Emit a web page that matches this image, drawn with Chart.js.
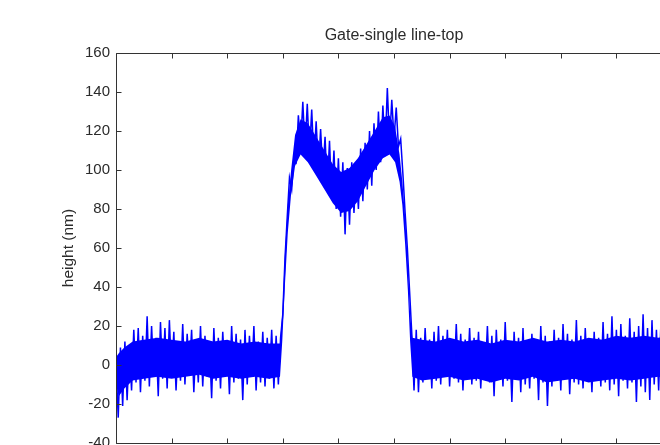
<!DOCTYPE html>
<html>
<head>
<meta charset="utf-8">
<script src="https://cdn.jsdelivr.net/npm/chart.js@4.4.0/dist/chart.umd.min.js"></script>
<style>
    body { margin: 0; overflow: hidden; background: #fff; }
</style>
</head>
<body>
<canvas id="myChart" width="700" height="480"></canvas>
<script>
// profile samples, one every 0.04 along x
const sampleStep = 0.04;
const heights = [
    1, -27, 9, -21, 12, -18, 10, -13, 18, -9,
    19, -14, 15, -8, 25, -11, 20, -6, 14, -16,
    22, -7, 19, -12, 23, -5, 17, -13, 12, -8,
    21, -10, 16, -4, 18, -14, 13, -9, 20, -11,
    15, -6, 11, -17, 19, -8, 14, -12, 17, -5,
    12, -15, 20, -9, 16, -7, 13, -18, 18, -10,
    15, -6, 20, -13, 12, -9, 17, -11, 14, -7,
    18, -12, 15, -10, 14, 26, 55, 76, 96, 90,
    106, 104, 128, 112, 135, 110, 134, 108, 131, 104,
    125, 100, 121, 98, 117, 90, 115, 86, 110, 80,
    106, 76, 104, 67, 101, 72, 104, 78, 100, 80,
    111, 84, 114, 90, 120, 92, 124, 100, 130, 104,
    133, 110, 142, 114, 136, 116, 132, 112, 116, 98,
    78, 60, 38, 16, -13, 18, -14, 14, -9, 19,
    -6, 13, -12, 17, -8, 20, -10, 15, -5, 18,
    -11, 12, -7, 21, -9, 16, -13, 13, -6, 19,
    -10, 14, -8, 17, -12, 11, -5, 20, -9, 15,
    -16, 18, -7, 13, -11, 22, -8, 12, -19, 17,
    -6, 14, -14, 19, -10, 11, -12, 16, -7, 13,
    -18, 20, -9, 15, -21, 12, -11, 18, -8, 14,
    -13, 21, -6, 16, -15, 13, -9, 23, -10, 15,
    -12, 19, -7, 12, -14, 17, -8, 14, -11, 22,
    -9, 16, -13, 25, -10, 18, -16, 21, -8, 15,
    -12, 24, -9, 17, -19, 20, -11, 26, -14, 19,
    -18, 23, -10, 18, -13, 21, -9, 16, -12, 20,
    -8
];

// dense core of the noise band (where the trace is solid blue)
const coreX = [
    0, 0.05, 0.15, 0.3, 0.5, 0.75, 1.0, 1.25, 1.5, 1.75,
    2.0, 2.25, 2.5, 2.75, 2.95, 2.99, 3.04, 3.09, 3.15, 3.22,
    3.32, 3.45, 3.6, 3.75, 3.9, 4.05, 4.2, 4.35, 4.5, 4.65,
    4.8, 4.92, 5.02, 5.1, 5.15, 5.2, 5.25, 5.29, 5.33, 5.5,
    5.75, 6.0, 6.25, 6.5, 6.75, 7.0, 7.25, 7.5, 7.75, 8.0,
    8.25, 8.5, 8.75, 9.0, 9.25, 9.5, 9.75, 10
];
const coreUpper = [
    4, 6, 9, 12, 13, 14, 13, 12, 14, 12,
    13, 11, 12, 11, 11, 26, 58, 82, 100, 118,
    126, 124, 117, 110, 103, 99, 101, 106, 113, 120,
    127, 128, 122, 108, 94, 76, 52, 26, 14, 13,
    12, 14, 12, 13, 11, 13, 12, 14, 12, 13,
    12, 14, 13, 15, 14, 15, 14, 15
];
const coreLower = [
    -10, -16, -12, -8, -7, -6, -7, -6, -5, -7,
    -6, -7, -6, -7, -6, 12, 42, 68, 88, 102,
    108, 104, 97, 90, 83, 78, 79, 84, 92, 100,
    106, 108, 104, 94, 82, 62, 38, 12, -6, -8,
    -7, -6, -8, -7, -9, -7, -8, -6, -9, -8,
    -7, -9, -8, -7, -8, -7, -6, -7
];

const xTicks = [0, 1, 2, 3, 4, 5, 6, 7, 8, 9, 10];
const yTicks = [-40, -20, 0, 20, 40, 60, 80, 100, 120, 140, 160];

const points = heights.map((h, i) => ({ x: i * sampleStep, y: h }));
const upperPts = coreX.map((x, i) => ({ x: x, y: coreUpper[i] }));
const lowerPts = coreX.map((x, i) => ({ x: x, y: coreLower[i] }));

// matlab style box with ticks pointing inwards
const boxTicks = {
    id: 'boxTicks',
    afterDraw(chart) {
        const { ctx, chartArea: a, scales } = chart;
        const l = Math.round(a.left) + 0.5, r = Math.round(a.right) + 0.5;
        const t = Math.round(a.top) + 0.5, b = Math.round(a.bottom) + 0.5;
        ctx.save();
        ctx.strokeStyle = '#333';
        ctx.lineWidth = 1;
        ctx.beginPath();
        ctx.rect(l, t, r - l, b - t);
        scales.x.ticks.forEach(tk => {
            const px = Math.round(scales.x.getPixelForValue(tk.value)) + 0.5;
            ctx.moveTo(px, t); ctx.lineTo(px, t + 5);
            ctx.moveTo(px, b); ctx.lineTo(px, b - 5);
        });
        scales.y.ticks.forEach(tk => {
            const py = Math.round(scales.y.getPixelForValue(tk.value)) + 0.5;
            ctx.moveTo(l, py); ctx.lineTo(l + 5, py);
            ctx.moveTo(r, py); ctx.lineTo(r - 5, py);
        });
        ctx.stroke();
        ctx.restore();
    }
};

const ctx = document.getElementById('myChart');
const font = { family: 'Liberation Sans, Arial, sans-serif', size: 15 };

new Chart(ctx, {
    type: 'line',
    data: {
        datasets: [{
            label: 'height',
            data: points,
            borderColor: 'rgb(0, 0, 255)',
            borderWidth: 1.5,
            pointRadius: 0,
            tension: 0,
            order: 0
        }, {
            label: 'core top',
            data: upperPts,
            borderWidth: 0,
            pointRadius: 0,
            backgroundColor: 'rgb(0, 0, 255)',
            fill: '+1',
            order: 1
        }, {
            label: 'core bottom',
            data: lowerPts,
            borderWidth: 0,
            pointRadius: 0,
            order: 2
        }]
    },
    options: {
        responsive: false,
        animation: false,
        layout: { padding: { left: 0, right: 28, top: 0, bottom: 0 } },
        scales: {
            x: {
                type: 'linear',
                min: 0,
                max: 10,
                afterBuildTicks: s => { s.ticks = xTicks.map(v => ({ value: v })); },
                afterFit: s => { s.height = 37; },
                grid: { display: false, drawTicks: false },
                border: { display: false },
                ticks: { display: false }
            },
            y: {
                min: -40,
                max: 160,
                afterBuildTicks: s => { s.ticks = yTicks.map(v => ({ value: v })); },
                afterFit: s => { s.width = 116; },
                grid: { display: false, drawTicks: false },
                border: { display: false },
                ticks: { padding: 6, color: '#2b2b2b', font: font },
                title: {
                    display: true,
                    text: 'height (nm)',
                    color: '#2b2b2b',
                    padding: { top: 59, bottom: 0 },
                    font: { family: font.family, size: 15.5 }
                }
            }
        },
        plugins: {
            legend: { display: false },
            tooltip: { enabled: false },
            filler: { propagate: false },
            title: {
                display: true,
                fullSize: false,
                text: 'Gate-single line-top',
                color: '#2b2b2b',
                padding: { top: 26.4, bottom: 7.4 },
                font: { family: font.family, size: 16, weight: 'normal' }
            }
        }
    },
    plugins: [boxTicks]
});
</script>
</body>
</html>
